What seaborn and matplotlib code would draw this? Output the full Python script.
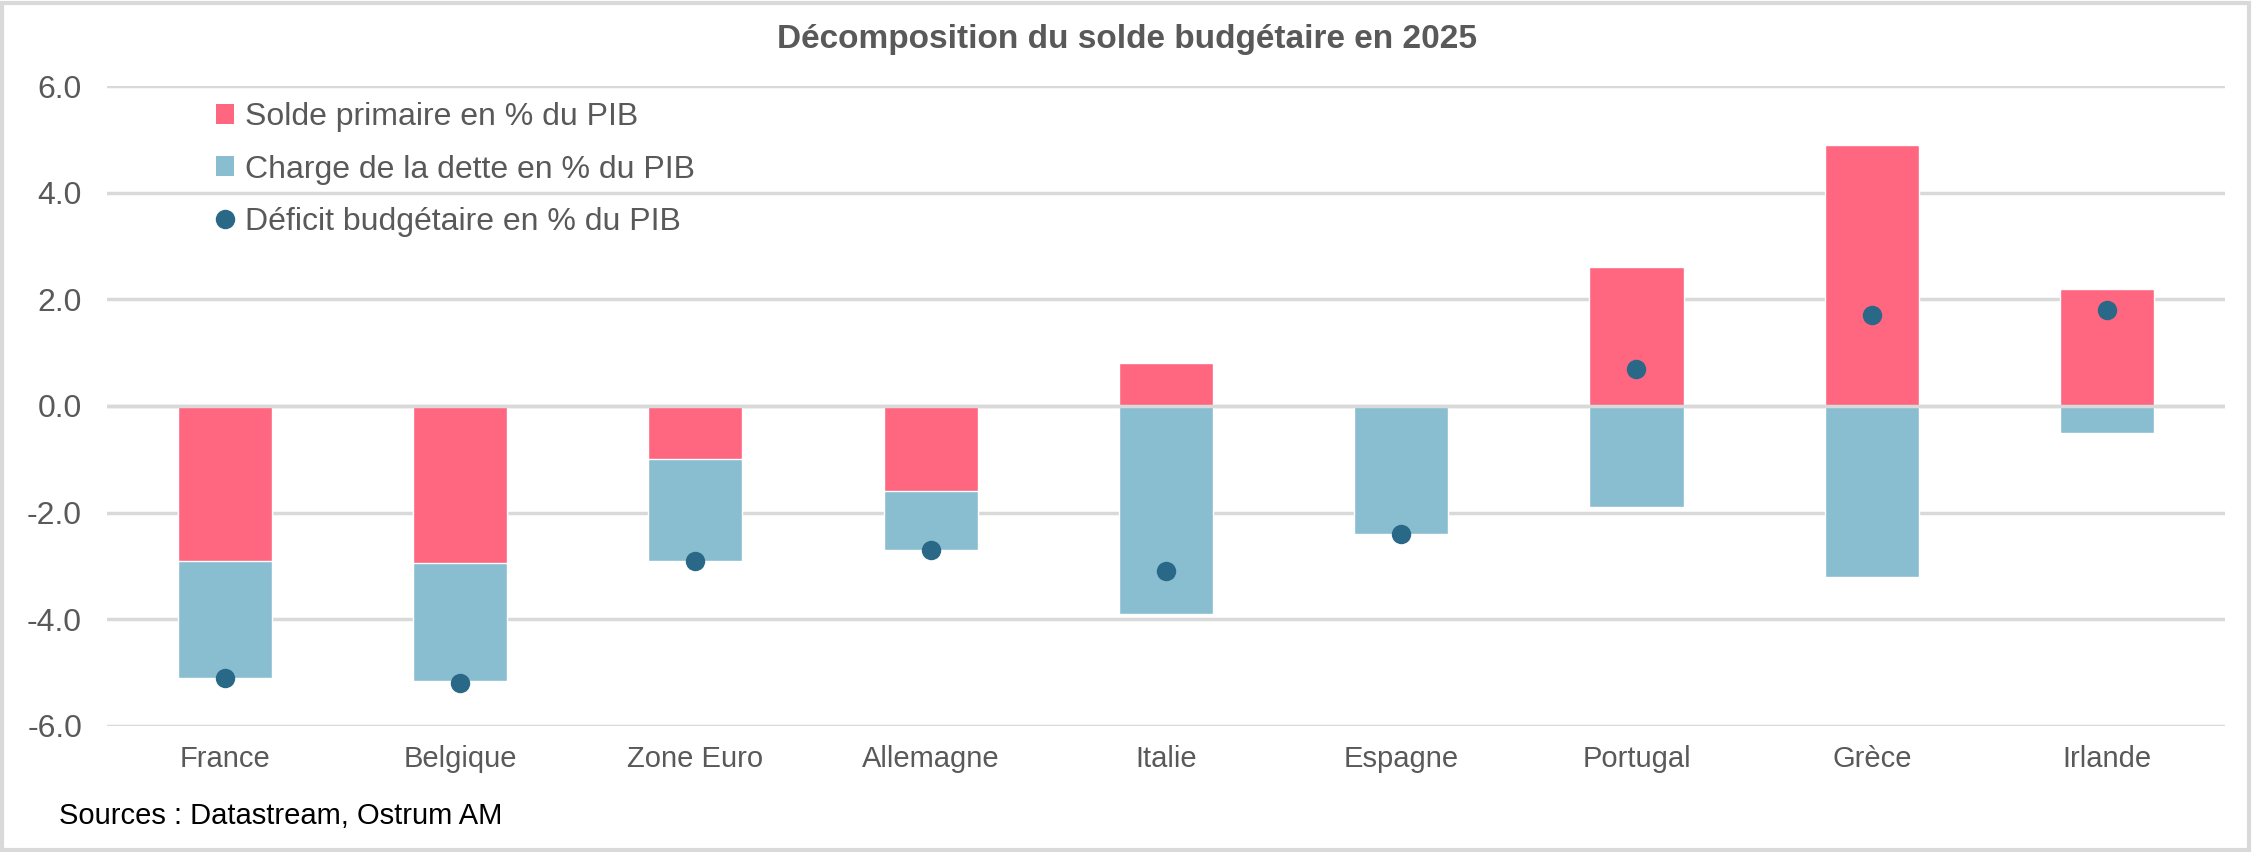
import numpy as np
import pandas as pd
import seaborn as sns
import matplotlib.pyplot as plt
from matplotlib.patches import Patch, Rectangle
from matplotlib.lines import Line2D

countries = ["France", "Belgique", "Zone Euro", "Allemagne", "Italie",
             "Espagne", "Portugal", "Grèce", "Irlande"]
solde_primaire = [-2.9, -2.95, -1.0, -1.6, 0.8, 0.0, 2.6, 4.9, 2.2]
charge_dette = [-2.2, -2.2, -1.9, -1.1, -3.9, -2.4, -1.9, -3.2, -0.5]
deficit = [-5.1, -5.2, -2.9, -2.7, -3.1, -2.4, 0.7, 1.7, 1.8]

RED = "#FF6680"
BLUE = "#89BED0"
DOT = "#2A6888"
GRID = "#D9D9D9"
TXT = "#595959"

sns.set_theme(style="white")
plt.rcParams["font.family"] = ["Liberation Sans", "DejaVu Sans"]

df = pd.DataFrame({
    "pays": countries,
    "primaire": solde_primaire,
    "charge": charge_dette,
    "deficit": deficit,
})
# debt charge stacks under the primary balance when that one is negative
df["charge_bas"] = np.minimum(df["primaire"], 0) + df["charge"]

fig = plt.figure(figsize=(22.54, 8.52), dpi=100)
ax = fig.add_axes([0.0475, 0.148, 0.9395, 0.751])

sns.barplot(data=df, x="pays", y="charge_bas", color=BLUE, width=0.4,
            saturation=1, ax=ax, zorder=2)
sns.barplot(data=df, x="pays", y="primaire", color=RED, width=0.4,
            saturation=1, ax=ax, zorder=2)
ax.axhline(0, color=GRID, lw=2.5, zorder=3)
sns.stripplot(data=df, x="pays", y="deficit", color=DOT, jitter=False,
              size=14, linewidth=0, ax=ax, zorder=4)

ax.set_ylim(-6, 6)
ax.set_xlim(-0.5, 8.5)
ax.set_yticks(np.arange(-6, 6.1, 2))
ax.set_yticklabels([f"{v:.1f}" for v in np.arange(-6, 6.1, 2)])
ax.yaxis.grid(True, color=GRID, lw=2.5)
ax.set_axisbelow(True)
for s in ax.spines.values():
    s.set_visible(False)
ax.set_xlabel("")
ax.set_ylabel("")
ax.tick_params(axis="x", length=0, pad=14, labelsize=21, labelcolor=TXT)
ax.tick_params(axis="y", length=0, pad=18, labelsize=23, labelcolor=TXT)

handles = [
    Patch(facecolor=RED, edgecolor="none"),
    Patch(facecolor=BLUE, edgecolor="none"),
    Line2D([0], [0], marker="o", color="none", markerfacecolor=DOT,
           markeredgecolor="none", markersize=14),
]
labels = ["Solde primaire en % du PIB", "Charge de la dette en % du PIB",
          "Déficit budgétaire en % du PIB"]
leg = ax.legend(handles, labels, loc="upper left", bbox_to_anchor=(0.096, 0.88),
                bbox_transform=fig.transFigure, frameon=False, fontsize=23,
                handlelength=0.55, handleheight=0.6, handletextpad=0.35,
                labelspacing=0.7, borderpad=0, borderaxespad=0)
for t in leg.get_texts():
    t.set_color(TXT)

fig.text(0.5, 0.954, "Décomposition du solde budgétaire en 2025",
         ha="center", va="center", fontsize=24, fontweight="bold", color=TXT)
fig.text(0.026, 0.042, "Sources : Datastream, Ostrum AM", ha="left",
         va="center", fontsize=21, color="black")
fig.patches.append(Rectangle((0.001, 0.002), 0.997, 0.995, transform=fig.transFigure,
                             fill=False, edgecolor=GRID, lw=3))

fig.savefig("out.png", dpi=100, facecolor="white")
